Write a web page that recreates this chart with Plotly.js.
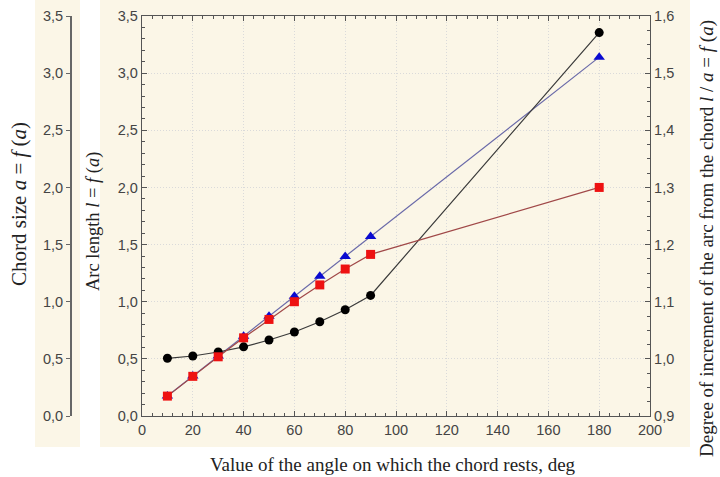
<!DOCTYPE html>
<html><head><meta charset="utf-8">
<script src="https://cdn.plot.ly/plotly-3.0.1.min.js"></script>
<style>html,body{margin:0;padding:0;background:#fff}#chart{width:720px;height:477px}</style>
</head><body><div id="chart"></div>
<script>
// Data
const angles = [10, 20, 30, 40, 50, 60, 70, 80, 90, 180];
const chordSize = [0.174, 0.347, 0.518, 0.684, 0.845, 1.0, 1.147, 1.286, 1.414, 2.0];
const arcLength = [0.175, 0.349, 0.524, 0.698, 0.873, 1.047, 1.222, 1.396, 1.571, 3.14];
const ratio = [1.001, 1.005, 1.012, 1.021, 1.033, 1.047, 1.065, 1.086, 1.111, 1.571];

const xTitle = 'Value of the angle on which the chord rests, deg';
const yOuterTitle = 'Chord size <i>a</i> = <i>f</i> (<i>a</i>)';
const yInnerTitle = 'Arc length <i>l</i> = <i>f</i> (<i>a</i>)';
const yRightTitle = 'Degree of increment of the arc from the chord <i>l</i> / <i>a</i> = <i>f</i> (<i>a</i>)';

const tickFont = {family: 'Liberation Sans, Arial, sans-serif', size: 14.5, color: '#444'};
const serif = 'Liberation Serif, Times New Roman, serif';
const beige = '#fbf6e7';
const gridStyle = {showgrid: true, gridcolor: '#dadada', griddash: '1px,2px', gridwidth: 1};

const traces = [
  {x: angles, y: arcLength, xaxis: 'x', yaxis: 'y', mode: 'lines+markers',
   line: {color: '#6868a8', width: 1.2},
   marker: {symbol: 'triangle-up', size: 10, color: '#0a0ad0'}, name: 'arc'},
  {x: angles, y: ratio, xaxis: 'x', yaxis: 'y2', mode: 'lines+markers',
   line: {color: '#3a3a3a', width: 1.2},
   marker: {symbol: 'circle', size: 9, color: '#000'}, name: 'ratio'},
  {x: angles, y: chordSize, xaxis: 'x', yaxis: 'y3', mode: 'lines+markers',
   line: {color: '#a04848', width: 1.2},
   marker: {symbol: 'square', size: 9, color: '#ee1111'}, name: 'chord'}
];

const W = 590, H = 400, L = 60, T = 16;
const px = v => (v - L) / W;
const py = v => (T + H - v) / H;

const layout = {
  width: 720, height: 477,
  margin: {l: L, r: 70, t: T, b: 61},
  paper_bgcolor: '#fff', plot_bgcolor: '#fff',
  showlegend: false,
  separators: ', ',
  xaxis: Object.assign({
    domain: [px(142), 1], range: [0, 200], dtick: 20, tick0: 0,
    ticks: 'inside', ticklen: 5, tickcolor: '#555',
    minor: {dtick: 4, ticks: 'inside', ticklen: 3, tickcolor: '#555'},
    showline: true, linecolor: '#555', linewidth: 1.2, mirror: 'ticks',
    zeroline: false, tickfont: tickFont
  }, gridStyle),
  yaxis: Object.assign({
    range: [0, 3.5], dtick: 0.5, tick0: 0, tickformat: '.1f',
    ticks: 'inside', ticklen: 5, tickcolor: '#555',
    minor: {dtick: 0.1, ticks: 'inside', ticklen: 3, tickcolor: '#555'},
    showline: true, linecolor: '#555', linewidth: 1.2,
    zeroline: false, tickfont: tickFont
  }, gridStyle),
  yaxis2: {
    overlaying: 'y', side: 'right', anchor: 'x',
    range: [0.9, 1.6], dtick: 0.1, tick0: 0.9, tickformat: '.1f',
    ticks: 'inside', ticklen: 5, tickcolor: '#555',
    minor: {dtick: 0.025, ticks: 'inside', ticklen: 3, tickcolor: '#555'},
    showline: true, linecolor: '#555', linewidth: 1.2,
    showgrid: false, zeroline: false, tickfont: tickFont
  },
  yaxis3: {
    overlaying: 'y', side: 'left', anchor: 'free', position: px(70),
    range: [0, 3.5], dtick: 0.5, tick0: 0, tickformat: '.1f',
    ticks: 'outside', ticklen: 4, tickcolor: '#666',
    showline: true, linecolor: '#666', linewidth: 1.5,
    showgrid: false, zeroline: false, tickfont: tickFont
  },
  shapes: [
    {type: 'rect', xref: 'paper', yref: 'paper', x0: px(35), x1: px(80), y0: py(447), y1: py(0),
     fillcolor: beige, line: {width: 0}, layer: 'below'},
    {type: 'rect', xref: 'paper', yref: 'paper', x0: px(100), x1: px(690), y0: py(447), y1: py(0),
     fillcolor: beige, line: {width: 0}, layer: 'below'}
  ],
  annotations: [
    {text: yOuterTitle, xref: 'paper', yref: 'paper', x: px(19), y: py(204), textangle: -90,
     showarrow: false, xanchor: 'center', yanchor: 'middle', font: {family: serif, size: 21, color: '#222'}},
    {text: yInnerTitle, xref: 'paper', yref: 'paper', x: px(93), y: py(222), textangle: -90,
     showarrow: false, xanchor: 'center', yanchor: 'middle', font: {family: serif, size: 18.5, color: '#222'}},
    {text: yRightTitle, xref: 'paper', yref: 'paper', x: px(707), y: py(239), textangle: -90,
     showarrow: false, xanchor: 'center', yanchor: 'middle', font: {family: serif, size: 19, color: '#222'}},
    {text: xTitle, xref: 'paper', yref: 'paper', x: px(393), y: py(464),
     showarrow: false, xanchor: 'center', yanchor: 'middle', font: {family: serif, size: 19, color: '#222'}}
  ]
};

Plotly.newPlot('chart', traces, layout, {staticPlot: true, displayModeBar: false});
</script>
</body></html>
